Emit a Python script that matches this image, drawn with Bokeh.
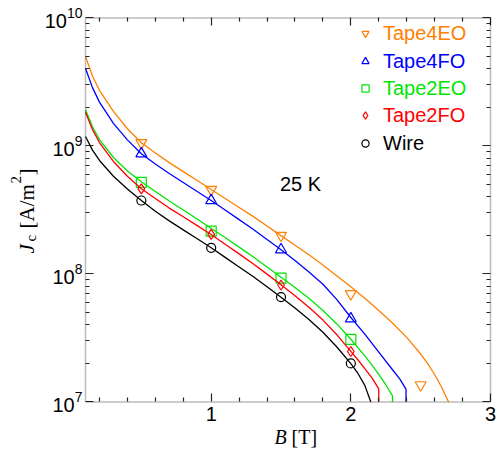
from bokeh.plotting import figure
from bokeh.models import (Range1d, FixedTicker, Label, Legend, LegendItem,
                          LinearAxis, LogAxis, BoxAnnotation)
from bokeh.embed import file_html
from bokeh.resources import INLINE

# ---- fitted curves (log10 of Jc) ----
wire_b = [0.1, 0.15, 0.2, 0.3, 0.4, 0.5, 0.6, 0.7, 0.8, 0.9, 1.0, 1.1, 1.2, 1.3,
          1.4, 1.5, 1.6, 1.7, 1.8, 1.9, 2.0, 2.05, 2.1, 2.143]
wire_logj = [9.074, 8.968, 8.887, 8.764, 8.664, 8.574, 8.49, 8.415, 8.345, 8.275,
             8.205, 8.13, 8.055, 7.98, 7.90, 7.819, 7.735, 7.645, 7.545, 7.43,
             7.30, 7.225, 7.13, 7.00]

t2fo_b = [0.1, 0.15, 0.2, 0.3, 0.4, 0.5, 0.6, 0.7, 0.8, 0.9, 1.0, 1.1, 1.2, 1.3,
          1.4, 1.5, 1.6, 1.7, 1.8, 1.9, 2.0, 2.05, 2.1, 2.15, 2.2, 2.2]
t2fo_logj = [9.264, 9.128, 9.027, 8.879, 8.764, 8.666, 8.59, 8.515, 8.447, 8.378,
             8.309, 8.233, 8.157, 8.08, 7.999, 7.916, 7.83, 7.74, 7.64, 7.525,
             7.395, 7.33, 7.26, 7.19, 7.103, 7.0]

t2eo_b = [0.1, 0.15, 0.2, 0.3, 0.4, 0.5, 0.6, 0.7, 0.8, 0.9, 1.0, 1.1, 1.2, 1.3,
          1.4, 1.5, 1.6, 1.7, 1.8, 1.9, 2.0, 2.1, 2.15, 2.2, 2.25, 2.298, 2.298]
t2eo_logj = [9.283, 9.15, 9.05, 8.91, 8.805, 8.72, 8.645, 8.57, 8.50, 8.43,
             8.355, 8.285, 8.21, 8.135, 8.055, 7.975, 7.895, 7.81, 7.715, 7.61,
             7.49, 7.36, 7.29, 7.215, 7.135, 7.05, 7.0]

t4fo_b = [0.1, 0.15, 0.2, 0.3, 0.4, 0.5, 0.6, 0.7, 0.8, 0.9, 1.0, 1.1, 1.2, 1.3,
          1.4, 1.5, 1.6, 1.7, 1.8, 1.9, 2.0, 2.1, 2.2, 2.3, 2.35, 2.395, 2.395]
t4fo_logj = [9.608, 9.456, 9.343, 9.177, 9.048, 8.939, 8.86, 8.785, 8.715, 8.645,
             8.574, 8.50, 8.425, 8.35, 8.27, 8.189, 8.105, 8.015, 7.92, 7.80,
             7.66, 7.53, 7.39, 7.25, 7.18, 7.10, 7.0]

t4eo_b = [0.1, 0.15, 0.2, 0.3, 0.4, 0.5, 0.6, 0.7, 0.8, 0.9, 1.0, 1.1, 1.2, 1.3,
          1.4, 1.5, 1.6, 1.7, 1.8, 1.9, 2.0, 2.1, 2.2, 2.3, 2.4, 2.5, 2.55, 2.6,
          2.65, 2.7]
t4eo_logj = [9.70, 9.547, 9.435, 9.27, 9.135, 9.025, 8.945, 8.87, 8.80, 8.73,
             8.66, 8.59, 8.52, 8.45, 8.375, 8.30, 8.225, 8.15, 8.07, 7.985,
             7.90, 7.81, 7.715, 7.615, 7.505, 7.375, 7.30, 7.215, 7.115, 7.0]

# ---- measured points ----
pts_b = [0.5, 1.0, 1.5, 2.0]
t4eo_pts_b = [0.5, 1.0, 1.5, 2.0, 2.5]
t4eo_pts = [1.06e9, 4.57e8, 2.0e8, 7.0e7, 1.36e7]
t4fo_pts = [8.7e8, 3.75e8, 1.55e8, 4.47e7]
t2eo_pts = [5.2e8, 2.16e8, 9.3e7, 3.08e7]
t2fo_pts = [4.63e8, 2.04e8, 8.2e7, 2.48e7]
wire_pts = [3.75e8, 1.6e8, 6.6e7, 2.0e7]

names = ["Tape4EO", "Tape4FO", "Tape2EO", "Tape2FO", "Wire"]
colors = ["#FF8000", "#0000FF", "#00E600", "#FF0000", "#000000"]
markers = ["inverted_triangle", "triangle", "square", "diamond", "circle"]
marker_sizes = [11, 11, 10, 10, 9]

# axes
B_MIN, B_MAX = 0.1, 3.0
J_MIN, J_MAX = 1e7, 1e10
y_decades = [7, 8, 9, 10]
x_major = [1, 2, 3]
x_minor = [0.2, 0.4, 0.6, 0.8, 1.2, 1.4, 1.6, 1.8, 2.2, 2.4, 2.6, 2.8]

SANS = "Liberation Sans"
SERIF = "Liberation Serif"
INK = "#222222"

# the frame fills the canvas; the plotting box is drawn with fixed axes
W, H = 497, 449
p = figure(width=W, height=H, min_border=0,
           x_range=Range1d(-0.5086, 3.0501),
           y_range=Range1d(10 ** 6.6289, 10 ** 10.1367), y_axis_type="log",
           output_backend="svg", toolbar_location=None,
           background_fill_color="white", border_fill_color="white")
p.grid.visible = False
p.outline_line_color = None

xt = FixedTicker(ticks=x_major, minor_ticks=x_minor)
major_y = [10.0 ** e for e in y_decades]
minor_y = [m * 10.0 ** e for e in y_decades[:-1] for m in range(2, 10)]
yt = FixedTicker(ticks=major_y, minor_ticks=minor_y)


def style(ax, labels, ticks):
    ax.axis_line_color = None
    ax.major_tick_in = 8
    ax.major_tick_out = 0
    ax.minor_tick_in = 4
    ax.minor_tick_out = 0
    ax.major_tick_line_color = INK
    ax.minor_tick_line_color = INK
    ax.major_tick_line_width = 1.2
    ax.minor_tick_line_width = 1.2
    ax.major_label_text_color = "black"
    if not labels:
        ax.major_label_overrides = {t: "" for t in ticks}
        ax.major_label_text_font_size = "6px"
        ax.major_label_standoff = 0


bx = p.xaxis[0]
bx.ticker = xt
bx.fixed_location = J_MIN
style(bx, True, x_major)
bx.major_label_text_font = SANS
bx.major_label_text_font_size = "20px"
bx.major_label_standoff = 5

ly = p.yaxis[0]
ly.ticker = yt
ly.fixed_location = B_MIN
style(ly, True, major_y)
ly.major_label_text_font = SANS
ly.major_label_text_font_size = "20px"
ly.major_label_standoff = 3

top = LinearAxis(ticker=xt, fixed_location=J_MAX)
style(top, False, x_major)
p.add_layout(top, "above")
right = LogAxis(ticker=yt, fixed_location=B_MAX)
style(right, False, major_y)
p.add_layout(right, "right")

p.add_layout(BoxAnnotation(left=B_MIN, right=B_MAX, bottom=J_MIN, top=J_MAX,
                           fill_alpha=0, line_color=INK, line_width=1.5))

curves = [(t4eo_b, t4eo_logj), (t4fo_b, t4fo_logj), (t2eo_b, t2eo_logj),
          (t2fo_b, t2fo_logj), (wire_b, wire_logj)]
points = [(t4eo_pts_b, t4eo_pts), (pts_b, t4fo_pts), (pts_b, t2eo_pts),
          (pts_b, t2fo_pts), (pts_b, wire_pts)]

scat = []
for (cb, cl), (pb, pv), c, m, s in zip(curves, points, colors, markers, marker_sizes):
    p.line(cb, [10.0 ** v for v in cl], line_color=c, line_width=1.3)
    r = p.scatter(pb, pv, marker=m, size=s, fill_color=None, line_color=c,
                  line_width=1.2)
    scat.append(r)

# legend, one block per entry so each label keeps its colour
row_bottoms = [404, 376, 349, 322, 294]
for name, c, r, yb in zip(names, colors, scat, row_bottoms):
    leg = Legend(items=[LegendItem(label=name, renderers=[r])],
                 location=(356, yb), glyph_width=18, glyph_height=24,
                 label_height=24, label_standoff=9, padding=0, margin=0,
                 spacing=0, border_line_color=None, background_fill_alpha=0,
                 label_text_font=SANS, label_text_font_size="20px",
                 label_text_color=c)
    p.add_layout(leg)

# annotation
p.add_layout(Label(x=300, y=266, x_units="screen", y_units="screen",
                   text="25 K", text_font=SANS, text_font_size="20px",
                   text_align="center", text_baseline="middle",
                   text_color="black"))

# y axis label: J_c [A/m^2]
ang = 1.5707963
ylab = [("J", "italic", "21px", 26, 196),
        ("c", "normal", "15px", 30, 208),
        ("[A/m", "normal", "21px", 26, 221),
        ("2", "normal", "15px", 15, 266),
        ("]", "normal", "21px", 26, 274)]
for t, st, fs, xx, yy in ylab:
    p.add_layout(Label(x=xx, y=yy, x_units="screen", y_units="screen",
                       text=t, angle=ang, text_font=SERIF, text_font_style=st,
                       text_font_size=fs, text_align="left",
                       text_baseline="alphabetic", text_color="black"))

# x axis label: B [T]
p.add_layout(Label(x=274, y=13, x_units="screen", y_units="screen", text="B",
                   text_font=SERIF, text_font_style="italic",
                   text_font_size="20px", text_align="left",
                   text_baseline="alphabetic", text_color="black"))
p.add_layout(Label(x=291, y=13, x_units="screen", y_units="screen",
                   text="[T]", text_font=SERIF, text_font_size="20px",
                   text_align="left", text_baseline="alphabetic",
                   text_color="black"))

open("out.html", "w").write(file_html(p, INLINE))
